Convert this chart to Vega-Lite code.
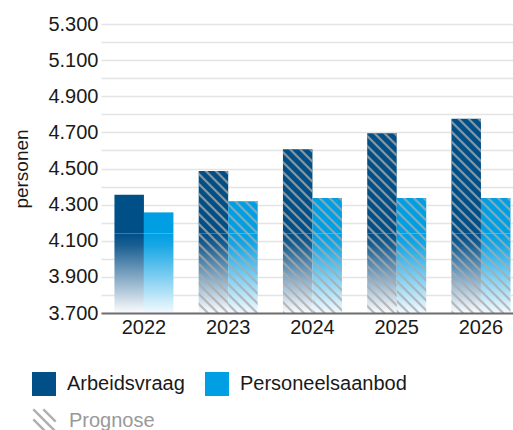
{
  "$schema": "https://vega.github.io/schema/vega-lite/v6.json",
  "width": 412,
  "height": 289,
  "autosize": "none",
  "padding": {"left": 101, "top": 24, "right": 0, "bottom": 117},
  "background": "white",
  "params": [
    {"name": "hs", "value": [
      {"offset": 0, "color": "rgba(170,170,170,0)"}, {"offset": 0.006, "color": "rgba(170,170,170,0.8)"}, {"offset": 0.0125, "color": "rgba(170,170,170,0.8)"}, {"offset": 0.019, "color": "rgba(170,170,170,0)"},
      {"offset": 0.041667, "color": "rgba(170,170,170,0)"}, {"offset": 0.047667, "color": "rgba(170,170,170,0.8)"}, {"offset": 0.054167, "color": "rgba(170,170,170,0.8)"}, {"offset": 0.060667, "color": "rgba(170,170,170,0)"},
      {"offset": 0.083333, "color": "rgba(170,170,170,0)"}, {"offset": 0.089333, "color": "rgba(170,170,170,0.8)"}, {"offset": 0.095833, "color": "rgba(170,170,170,0.8)"}, {"offset": 0.102333, "color": "rgba(170,170,170,0)"},
      {"offset": 0.125, "color": "rgba(170,170,170,0)"}, {"offset": 0.131, "color": "rgba(170,170,170,0.8)"}, {"offset": 0.1375, "color": "rgba(170,170,170,0.8)"}, {"offset": 0.144, "color": "rgba(170,170,170,0)"},
      {"offset": 0.166667, "color": "rgba(170,170,170,0)"}, {"offset": 0.172667, "color": "rgba(170,170,170,0.8)"}, {"offset": 0.179167, "color": "rgba(170,170,170,0.8)"}, {"offset": 0.185667, "color": "rgba(170,170,170,0)"},
      {"offset": 0.208333, "color": "rgba(170,170,170,0)"}, {"offset": 0.214333, "color": "rgba(170,170,170,0.8)"}, {"offset": 0.220833, "color": "rgba(170,170,170,0.8)"}, {"offset": 0.227333, "color": "rgba(170,170,170,0)"},
      {"offset": 0.25, "color": "rgba(170,170,170,0)"}, {"offset": 0.256, "color": "rgba(170,170,170,0.8)"}, {"offset": 0.2625, "color": "rgba(170,170,170,0.8)"}, {"offset": 0.269, "color": "rgba(170,170,170,0)"},
      {"offset": 0.291667, "color": "rgba(170,170,170,0)"}, {"offset": 0.297667, "color": "rgba(170,170,170,0.8)"}, {"offset": 0.304167, "color": "rgba(170,170,170,0.8)"}, {"offset": 0.310667, "color": "rgba(170,170,170,0)"},
      {"offset": 0.333333, "color": "rgba(170,170,170,0)"}, {"offset": 0.339333, "color": "rgba(170,170,170,0.8)"}, {"offset": 0.345833, "color": "rgba(170,170,170,0.8)"}, {"offset": 0.352333, "color": "rgba(170,170,170,0)"},
      {"offset": 0.375, "color": "rgba(170,170,170,0)"}, {"offset": 0.381, "color": "rgba(170,170,170,0.8)"}, {"offset": 0.3875, "color": "rgba(170,170,170,0.8)"}, {"offset": 0.394, "color": "rgba(170,170,170,0)"},
      {"offset": 0.416667, "color": "rgba(170,170,170,0)"}, {"offset": 0.422667, "color": "rgba(170,170,170,0.8)"}, {"offset": 0.429167, "color": "rgba(170,170,170,0.8)"}, {"offset": 0.435667, "color": "rgba(170,170,170,0)"},
      {"offset": 0.458333, "color": "rgba(170,170,170,0)"}, {"offset": 0.464333, "color": "rgba(170,170,170,0.8)"}, {"offset": 0.470833, "color": "rgba(170,170,170,0.8)"}, {"offset": 0.477333, "color": "rgba(170,170,170,0)"},
      {"offset": 0.5, "color": "rgba(170,170,170,0)"}, {"offset": 0.506, "color": "rgba(170,170,170,0.8)"}, {"offset": 0.5125, "color": "rgba(170,170,170,0.8)"}, {"offset": 0.519, "color": "rgba(170,170,170,0)"},
      {"offset": 0.541667, "color": "rgba(170,170,170,0)"}, {"offset": 0.547667, "color": "rgba(170,170,170,0.8)"}, {"offset": 0.554167, "color": "rgba(170,170,170,0.8)"}, {"offset": 0.560667, "color": "rgba(170,170,170,0)"},
      {"offset": 0.583333, "color": "rgba(170,170,170,0)"}, {"offset": 0.589333, "color": "rgba(170,170,170,0.8)"}, {"offset": 0.595833, "color": "rgba(170,170,170,0.8)"}, {"offset": 0.602333, "color": "rgba(170,170,170,0)"},
      {"offset": 0.625, "color": "rgba(170,170,170,0)"}, {"offset": 0.631, "color": "rgba(170,170,170,0.8)"}, {"offset": 0.6375, "color": "rgba(170,170,170,0.8)"}, {"offset": 0.644, "color": "rgba(170,170,170,0)"},
      {"offset": 0.666667, "color": "rgba(170,170,170,0)"}, {"offset": 0.672667, "color": "rgba(170,170,170,0.8)"}, {"offset": 0.679167, "color": "rgba(170,170,170,0.8)"}, {"offset": 0.685667, "color": "rgba(170,170,170,0)"},
      {"offset": 0.708333, "color": "rgba(170,170,170,0)"}, {"offset": 0.714333, "color": "rgba(170,170,170,0.8)"}, {"offset": 0.720833, "color": "rgba(170,170,170,0.8)"}, {"offset": 0.727333, "color": "rgba(170,170,170,0)"},
      {"offset": 0.75, "color": "rgba(170,170,170,0)"}, {"offset": 0.756, "color": "rgba(170,170,170,0.8)"}, {"offset": 0.7625, "color": "rgba(170,170,170,0.8)"}, {"offset": 0.769, "color": "rgba(170,170,170,0)"},
      {"offset": 0.791667, "color": "rgba(170,170,170,0)"}, {"offset": 0.797667, "color": "rgba(170,170,170,0.8)"}, {"offset": 0.804167, "color": "rgba(170,170,170,0.8)"}, {"offset": 0.810667, "color": "rgba(170,170,170,0)"},
      {"offset": 0.833333, "color": "rgba(170,170,170,0)"}, {"offset": 0.839333, "color": "rgba(170,170,170,0.8)"}, {"offset": 0.845833, "color": "rgba(170,170,170,0.8)"}, {"offset": 0.852333, "color": "rgba(170,170,170,0)"},
      {"offset": 0.875, "color": "rgba(170,170,170,0)"}, {"offset": 0.881, "color": "rgba(170,170,170,0.8)"}, {"offset": 0.8875, "color": "rgba(170,170,170,0.8)"}, {"offset": 0.894, "color": "rgba(170,170,170,0)"},
      {"offset": 0.916667, "color": "rgba(170,170,170,0)"}, {"offset": 0.922667, "color": "rgba(170,170,170,0.8)"}, {"offset": 0.929167, "color": "rgba(170,170,170,0.8)"}, {"offset": 0.935667, "color": "rgba(170,170,170,0)"},
      {"offset": 0.958333, "color": "rgba(170,170,170,0)"}, {"offset": 0.964333, "color": "rgba(170,170,170,0.8)"}, {"offset": 0.970833, "color": "rgba(170,170,170,0.8)"}, {"offset": 0.977333, "color": "rgba(170,170,170,0)"}
    ]}
  ],
  "data": {"values": [
    {"year": "2022", "series": "Arbeidsvraag", "value": 4355, "prognose": false},
    {"year": "2022", "series": "Personeelsaanbod", "value": 4257, "prognose": false},
    {"year": "2023", "series": "Arbeidsvraag", "value": 4486, "prognose": true},
    {"year": "2023", "series": "Personeelsaanbod", "value": 4318, "prognose": true},
    {"year": "2024", "series": "Arbeidsvraag", "value": 4606, "prognose": true},
    {"year": "2024", "series": "Personeelsaanbod", "value": 4336, "prognose": true},
    {"year": "2025", "series": "Arbeidsvraag", "value": 4695, "prognose": true},
    {"year": "2025", "series": "Personeelsaanbod", "value": 4336, "prognose": true},
    {"year": "2026", "series": "Arbeidsvraag", "value": 4775, "prognose": true},
    {"year": "2026", "series": "Personeelsaanbod", "value": 4336, "prognose": true}
  ]},
  "encoding": {
    "x": {
      "field": "year", "type": "nominal",
      "scale": {"paddingInner": 0.3, "paddingOuter": 0.095, "align": 0.84},
      "axis": {"title": null, "labelAngle": 0, "domain": true, "domainColor": "#6e6e6e", "domainWidth": 2, "ticks": false, "tickSize": 0, "labelPadding": 4, "labelFontSize": 20, "labelColor": "#1a1a1a", "labelFont": "Liberation Sans", "grid": false, "zindex": 1}
    },
    "xOffset": {"field": "series", "type": "nominal", "scale": {"paddingInner": 0, "paddingOuter": 0}}
  },
  "layer": [
    {
      "mark": {"type": "bar"},
      "encoding": {
        "y": {
          "field": "value", "type": "quantitative",
          "scale": {"domain": [3700, 5300], "zero": false, "nice": false},
          "axis": {
            "title": "personen", "titleFontSize": 19, "titleFontWeight": "normal", "titleColor": "#1a1a1a", "titleFont": "Liberation Sans", "titlePadding": 16,
            "values": [3700, 3800, 3900, 4000, 4100, 4200, 4300, 4400, 4500, 4600, 4700, 4800, 4900, 5000, 5100, 5200, 5300],
            "tickCount": 40,
            "labelExpr": "(datum.value - 3700) % 200 == 0 ? replace(format(datum.value, ','), ',', '.') : ''",
            "labelOverlap": false, "labelFlush": false,
            "domain": false, "ticks": false, "tickSize": 0, "labelPadding": 3, "labelFontSize": 20, "labelColor": "#1a1a1a", "labelFont": "Liberation Sans",
            "grid": true, "gridColor": "#e4e4e4", "gridWidth": 1.5
          }
        },
        "y2": {"datum": 4140},
        "color": {
          "field": "series", "type": "nominal",
          "scale": {"domain": ["Arbeidsvraag", "Personeelsaanbod"], "range": ["#004f86", "#009fe3"]},
          "legend": {
            "title": null, "orient": "none", "legendX": -69, "legendY": 348, "direction": "horizontal",
            "symbolType": "square", "symbolSize": 576, "symbolStrokeWidth": 0, "labelFontSize": 20, "labelColor": "#1a1a1a", "labelFont": "Liberation Sans",
            "labelOffset": 11, "labelLimit": 300, "columnPadding": 20, "padding": 0
          }
        }
      }
    },
    {
      "transform": [{"filter": "datum.series == 'Arbeidsvraag'"}],
      "mark": {"type": "bar", "fill": {"gradient": "linear", "x1": 0, "y1": 0, "x2": 0, "y2": 1, "stops": [{"offset": 0, "color": "#004f86"}, {"offset": 0.15, "color": "#1a5f92"}, {"offset": 1, "color": "#fbfcfe"}]}},
      "encoding": {"y": {"datum": 4140}, "y2": {"datum": 3700}}
    },
    {
      "transform": [{"filter": "datum.series == 'Personeelsaanbod'"}],
      "mark": {"type": "bar", "fill": {"gradient": "linear", "x1": 0, "y1": 0, "x2": 0, "y2": 1, "stops": [{"offset": 0, "color": "#009fe3"}, {"offset": 0.15, "color": "#18a7e5"}, {"offset": 1, "color": "#f3fafe"}]}},
      "encoding": {"y": {"datum": 4140}, "y2": {"datum": 3700}}
    },
    {
      "transform": [{"filter": "datum.prognose"}],
      "mark": {"type": "bar", "fill": {"expr": "{gradient: 'linear', x1: 1, y1: 0, x2: 1 - 240*bandwidth('xOffset')/(pow(bandwidth('xOffset'),2)+pow(scale('y',3700)-scale('y',datum.value),2)), y2: 240*(scale('y',3700)-scale('y',datum.value))/(pow(bandwidth('xOffset'),2)+pow(scale('y',3700)-scale('y',datum.value),2)), stops: hs}"}},
      "encoding": {"y": {"field": "value", "type": "quantitative"}, "y2": {"datum": 3700}}
    },
    {
      "transform": [{"filter": "datum.year == '2026' && datum.series == 'Arbeidsvraag'"}],
      "mark": {"type": "point", "filled": false, "opacity": 0, "size": 1},
      "encoding": {
        "y": {"field": "value", "type": "quantitative"},
        "shape": {
          "datum": "Prognose",
          "scale": {"domain": ["Prognose"], "range": ["M-1,-1L1,1M-1,-0.1L0.1,1M-0.1,-1L1,0.1"]},
          "legend": {
            "title": null, "orient": "none", "legendX": -69, "legendY": 384, "symbolSize": 500, "symbolOpacity": 1,
            "symbolStrokeColor": "#b0b0b0", "symbolStrokeWidth": 2.5, "symbolFillColor": "transparent",
            "labelFontSize": 20, "labelColor": "#999999", "labelFont": "Liberation Sans", "labelOffset": 12, "padding": 0
          }
        }
      }
    }
  ],
  "config": {"view": {"stroke": null}, "font": "Liberation Sans"}
}
